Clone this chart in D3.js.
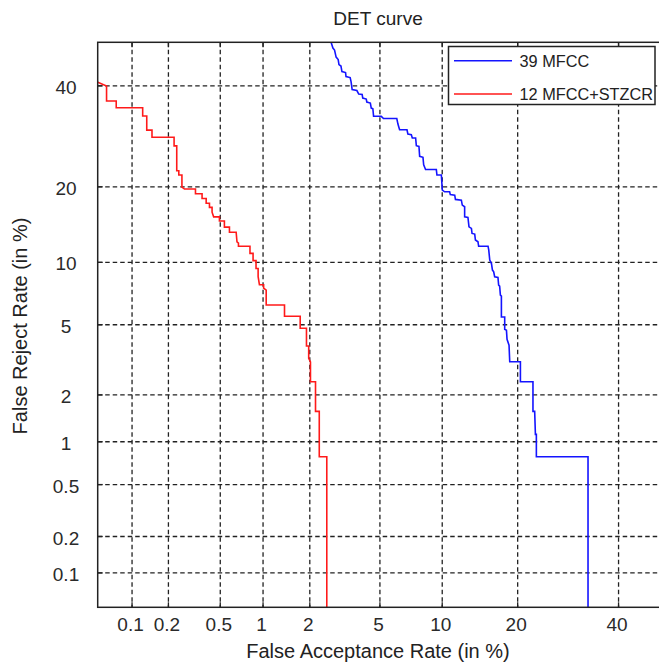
<!DOCTYPE html>
<html lang="en">
<head>
<meta charset="utf-8">
<title>DET curve</title>
<script src="https://cdn.jsdelivr.net/npm/d3@7"></script>
<style>
  html, body { margin: 0; padding: 0; background: #fff; }
  svg { display: block; font-family: Arial, "Liberation Sans", sans-serif; }
  .grid line { stroke: #222; stroke-width: 1.3; stroke-dasharray: 4.5,3; }
  .axis text { font-size: 19px; fill: #2a2a2a; }
  .axis path, .axis line { display: none; }
</style>
</head>
<body>
<svg id="chart" width="659" height="663"></svg>
<script>
// tick labels, both axes are in %
var faTicks = [0.1, 0.2, 0.5, 1, 2, 5, 10, 20, 40];
var frTicks = [0.1, 0.2, 0.5, 1, 2, 5, 10, 20, 40];
var axisLimits = [0.05, 50];

var seriesNames = ["39 MFCC", "12 MFCC+STZCR"];
var seriesColors = ["#1414ff", "#ff1a1a"];

// [false acceptance %, false reject %]
var mfcc39 = [
  [2.66, 51.0], [2.68, 50.06], [2.75, 48.67], [2.81, 48.20], [2.87, 46.57], [2.95, 46.00],
  [2.98, 44.85], [3.06, 44.50], [3.10, 43.24], [3.25, 43.01], [3.27, 42.09], [3.45, 41.86],
  [3.49, 40.96], [3.54, 39.16], [3.76, 38.93], [3.85, 38.15], [4.02, 38.04], [4.05, 37.27],
  [4.23, 37.05], [4.26, 36.40], [4.45, 36.18], [4.50, 35.08], [4.59, 34.93], [4.63, 33.32],
  [5.08, 33.32], [5.22, 32.85], [6.10, 32.85], [6.18, 31.70], [6.30, 30.52], [6.85, 30.52],
  [6.92, 29.66], [7.19, 29.52], [7.27, 28.86], [7.54, 28.86], [7.60, 27.36], [7.82, 27.21],
  [7.88, 25.33], [8.17, 25.14], [8.23, 23.78], [8.40, 22.93], [9.41, 22.93], [9.47, 21.97],
  [9.91, 21.97], [10.01, 19.48], [10.25, 19.20], [10.78, 19.20], [10.85, 18.75], [11.34, 18.67],
  [11.42, 18.01], [12.10, 17.90], [12.21, 17.16], [12.49, 16.91], [12.49, 15.47], [12.89, 15.39],
  [13.02, 14.13], [13.32, 13.92], [13.40, 13.28], [13.74, 13.20], [13.83, 12.48], [14.16, 12.27],
  [14.25, 11.75], [15.52, 11.75], [15.62, 11.30], [15.76, 10.24], [16.00, 9.88], [16.14, 9.23],
  [16.32, 9.07], [16.46, 8.61], [16.94, 8.55], [17.04, 7.86], [17.19, 7.78], [17.30, 7.05],
  [17.45, 6.97], [17.45, 5.48], [17.95, 5.48], [17.95, 4.73], [18.22, 4.68], [18.31, 4.18],
  [18.62, 3.89], [18.73, 3.14], [20.45, 3.14], [20.45, 2.40], [22.59, 2.40], [22.59, 1.58],
  [22.89, 1.58], [23.02, 1.12], [23.19, 1.12], [23.19, 0.79], [33.31, 0.79], [33.31, 0.01]
];

var mfcc12Stzcr = [
  [0.0485, 40.96], [0.060, 39.94], [0.060, 36.62], [0.073, 36.62], [0.073, 35.15], [0.123, 35.15],
  [0.123, 33.38], [0.133, 33.38], [0.133, 30.46], [0.147, 30.46], [0.147, 29.00], [0.222, 29.00],
  [0.222, 27.32], [0.233, 27.32], [0.233, 22.72], [0.242, 22.72], [0.242, 21.97], [0.256, 21.97],
  [0.256, 19.96], [0.268, 19.64], [0.326, 19.64], [0.326, 18.89], [0.366, 18.89], [0.366, 18.16],
  [0.393, 18.16], [0.393, 17.42], [0.416, 17.42], [0.416, 16.82], [0.435, 16.82], [0.435, 16.13],
  [0.447, 15.47], [0.493, 15.47], [0.493, 14.90], [0.536, 14.90], [0.536, 14.09], [0.583, 14.09],
  [0.583, 13.44], [0.651, 13.44], [0.660, 12.27], [0.676, 12.12], [0.676, 11.75], [0.814, 11.75],
  [0.814, 10.95], [0.855, 10.95], [0.855, 10.18], [0.896, 10.18], [0.896, 9.39], [0.926, 9.39],
  [0.926, 8.61], [0.945, 7.90], [1.009, 7.90], [1.009, 7.62], [1.050, 7.45], [1.050, 6.30],
  [1.386, 6.30], [1.386, 5.53], [1.744, 5.53], [1.744, 4.79], [1.908, 4.79], [1.908, 3.85],
  [1.969, 3.85], [1.969, 3.28], [2.019, 3.13], [2.019, 2.40], [2.167, 2.40], [2.167, 1.58],
  [2.283, 1.58], [2.283, 0.79], [2.531, 0.79], [2.531, 0.01]
];

// inverse of the normal cdf (Acklam), used for the DET warping
function probit(p) {
  var a = [-3.969683028665376e+01, 2.209460984245205e+02, -2.759285104469687e+02, 1.383577518672690e+02, -3.066479806614716e+01, 2.506628277459239e+00];
  var b = [-5.447609879822406e+01, 1.615858368580409e+02, -1.556989798598866e+02, 6.680131188771972e+01, -1.328068155288572e+01];
  var c = [-7.784894002430293e-03, -3.223964580411365e-01, -2.400758277161838e+00, -2.549732539343734e+00, 4.374664141464968e+00, 2.938163982698783e+00];
  var d = [7.784695709041462e-03, 3.224671290700398e-01, 2.445134137142996e+00, 3.754408661907416e+00];
  var plow = 0.02425, q, r;
  if (p < plow) {
    q = Math.sqrt(-2 * Math.log(p));
    return (((((c[0]*q + c[1])*q + c[2])*q + c[3])*q + c[4])*q + c[5]) / ((((d[0]*q + d[1])*q + d[2])*q + d[3])*q + 1);
  }
  if (p <= 1 - plow) {
    q = p - 0.5; r = q * q;
    return (((((a[0]*r + a[1])*r + a[2])*r + a[3])*r + a[4])*r + a[5])*q / (((((b[0]*r + b[1])*r + b[2])*r + b[3])*r + b[4])*r + 1);
  }
  q = Math.sqrt(-2 * Math.log(1 - p));
  return -(((((c[0]*q + c[1])*q + c[2])*q + c[3])*q + c[4])*q + c[5]) / ((((d[0]*q + d[1])*q + d[2])*q + d[3])*q + 1);
}
function dev(pct) { return probit(pct / 100); }

var svg = d3.select("#chart"),
    plot = {left: 97.7, right: 662, top: 42.3, bottom: 607.3};

var x = d3.scaleLinear().domain(axisLimits.map(dev)).range([plot.left, plot.right]);
var y = d3.scaleLinear().domain(axisLimits.map(dev)).range([plot.bottom, plot.top]);

svg.append("defs").append("clipPath").attr("id", "clip")
  .append("rect")
    .attr("x", plot.left).attr("y", plot.top)
    .attr("width", plot.right - plot.left).attr("height", plot.bottom - plot.top);

// grid
var grid = svg.append("g").attr("class", "grid");
grid.selectAll(".gx").data(faTicks).enter().append("line")
  .attr("x1", function(d) { return x(dev(d)); })
  .attr("x2", function(d) { return x(dev(d)); })
  .attr("y1", plot.top).attr("y2", plot.bottom);
grid.selectAll(".gy").data(frTicks).enter().append("line")
  .attr("y1", function(d) { return y(dev(d)); })
  .attr("y2", function(d) { return y(dev(d)); })
  .attr("x1", plot.left).attr("x2", plot.right);

// axes (labels only, ticks drawn inside below)
svg.append("g")
  .attr("class", "axis")
  .attr("transform", "translate(0," + plot.bottom + ")")
  .call(d3.axisBottom(x)
    .tickValues(faTicks.map(dev))
    .tickFormat(function(d, i) { return faTicks[i]; })
    .tickSize(0).tickPadding(10.7))
  .selectAll("text").attr("dx", "-2");

svg.append("g")
  .attr("class", "axis")
  .attr("transform", "translate(" + plot.left + ",0)")
  .call(d3.axisLeft(y)
    .tickValues(frTicks.map(dev))
    .tickFormat(function(d, i) { return frTicks[i]; })
    .tickSize(0))
  .selectAll("text")
    .attr("text-anchor", "middle")
    .attr("x", 66 - plot.left)
    .attr("dy", "0.4em");

// inner tick marks
var tk = svg.append("g").attr("stroke", "#222").attr("stroke-width", 1.3);
faTicks.forEach(function(v) {
  var px = x(dev(v));
  tk.append("line").attr("x1", px).attr("x2", px).attr("y1", plot.bottom).attr("y2", plot.bottom - 5);
  tk.append("line").attr("x1", px).attr("x2", px).attr("y1", plot.top).attr("y2", plot.top + 5);
});
frTicks.forEach(function(v) {
  var py = y(dev(v));
  tk.append("line").attr("y1", py).attr("y2", py).attr("x1", plot.left).attr("x2", plot.left + 5);
});

// curves
var line = d3.line()
  .x(function(d) { return x(dev(d[0])); })
  .y(function(d) { return y(dev(d[1])); });

var curves = svg.append("g").attr("clip-path", "url(#clip)");
[mfcc39, mfcc12Stzcr].forEach(function(s, i) {
  curves.append("path")
    .attr("d", line(s))
    .attr("fill", "none")
    .attr("stroke", seriesColors[i])
    .attr("stroke-width", 1.6);
});

// frame
svg.append("rect")
  .attr("x", plot.left).attr("y", plot.top)
  .attr("width", plot.right - plot.left).attr("height", plot.bottom - plot.top)
  .attr("fill", "none").attr("stroke", "#222").attr("stroke-width", 1.5);

// legend
var leg = svg.append("g");
leg.append("rect")
  .attr("x", 448.5).attr("y", 46.5).attr("width", 206.5).attr("height", 58)
  .attr("fill", "#fff").attr("stroke", "#222").attr("stroke-width", 1.5);
seriesNames.forEach(function(name, i) {
  var ly = 60.7 + i * 33.3;
  leg.append("line")
    .attr("x1", 454).attr("x2", 512).attr("y1", ly).attr("y2", ly)
    .attr("stroke", seriesColors[i]).attr("stroke-width", 1.6);
  leg.append("text")
    .attr("x", 519.5).attr("y", ly + 6)
    .style("font-size", "16.3px").attr("fill", "#222")
    .text(name);
});

// title and axis labels
svg.append("text")
  .attr("x", 378).attr("y", 25)
  .attr("text-anchor", "middle")
  .style("font-size", "19px").attr("fill", "#222")
  .text("DET curve");

svg.append("text")
  .attr("x", 378).attr("y", 658)
  .attr("text-anchor", "middle")
  .style("font-size", "20px").attr("fill", "#222")
  .text("False Acceptance Rate (in %)");

svg.append("text")
  .attr("transform", "translate(27,326) rotate(-90)")
  .attr("text-anchor", "middle")
  .style("font-size", "20px").attr("fill", "#222")
  .text("False Reject Rate (in %)");
</script>
</body>
</html>
